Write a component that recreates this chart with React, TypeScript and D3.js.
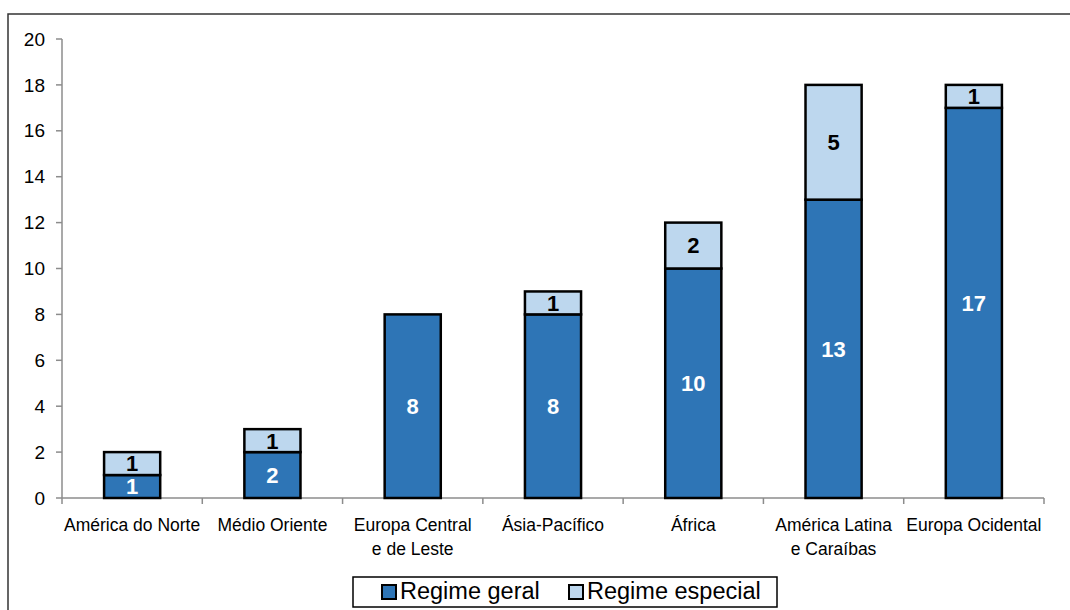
import React from "react";
import * as d3 from "d3";

const categories: string[][] = [
  ["América do Norte"],
  ["Médio Oriente"],
  ["Europa Central", "e de Leste"],
  ["Ásia-Pacífico"],
  ["África"],
  ["América Latina", "e Caraíbas"],
  ["Europa Ocidental"],
];
const regimeGeral = [1, 2, 8, 8, 10, 13, 17];
const regimeEspecial = [1, 1, 0, 1, 2, 5, 1];
const yTicks = [0, 2, 4, 6, 8, 10, 12, 14, 16, 18, 20];
const seriesNames = ["Regime geral", "Regime especial"];

const DARK = "#2E75B6";
const LIGHT = "#BDD7EE";
const FONT = "'Liberation Sans', Arial, sans-serif";

export default function App() {
  const W = 1070, H = 610;
  const left = 62, right = 1044, top = 39, bottom = 498;
  const keys = categories.map((c) => c.join(" "));
  const x = d3.scaleBand<string>().domain(keys).range([left, right]).paddingInner(0.6).paddingOuter(0.3);
  const y = d3.scaleLinear().domain([0, 20]).range([bottom, top]);
  const step = x.step();
  const boundaries = d3.range(keys.length + 1).map((i) => left + i * step);

  const rows = keys.map((k, i) => ({ k, geral: regimeGeral[i], especial: regimeEspecial[i] }));
  const stack = d3.stack<any>().keys(["geral", "especial"])(rows);

  return (
    <svg width={W} height={H} style={{ position: "absolute", left: 0, top: 0 }} fontFamily={FONT}>
      <rect x={0} y={0} width={W} height={H} fill="#fff" />
      <rect x={8} y={14} width={1200} height={800} fill="none" stroke="#333" strokeWidth={1.5} />
      {/* y axis */}
      <line x1={left} x2={left} y1={y(20)} y2={y(0)} stroke="#8c8c8c" strokeWidth={1.5} />
      {yTicks.map((t) => (
        <g key={t}>
          <line x1={left - 6} x2={left} y1={y(t)} y2={y(t)} stroke="#8c8c8c" strokeWidth={1.5} />
          <text x={45} y={y(t)} dy="0.35em" textAnchor="end" fontSize={19} fill="#000">
            {t}
          </text>
        </g>
      ))}
      {/* x axis */}
      <line x1={left} x2={right} y1={bottom} y2={bottom} stroke="#8c8c8c" strokeWidth={1.5} />
      {boundaries.map((b, i) => (
        <line key={i} x1={b} x2={b} y1={bottom} y2={bottom + 6} stroke="#8c8c8c" strokeWidth={1.5} />
      ))}
      {categories.map((lines, i) => (
        <text key={i} x={x(keys[i])! + x.bandwidth() / 2} y={531} textAnchor="middle" fontSize={17.5} fill="#000">
          {lines.map((l, j) => (
            <tspan key={j} x={x(keys[i])! + x.bandwidth() / 2} dy={j === 0 ? 0 : 24}>
              {l}
            </tspan>
          ))}
        </text>
      ))}
      {/* bars */}
      {stack.map((s, si) =>
        s.map((d, i) => {
          const v = d[1] - d[0];
          if (v <= 0) return null;
          const bx = x(keys[i])!;
          const y0 = y(d[0]);
          const y1 = y(d[1]);
          return (
            <rect key={`${si}-${i}`} x={bx} y={y1} width={x.bandwidth()} height={y0 - y1} fill={si === 0 ? DARK : LIGHT} stroke="#000" strokeWidth={2.5} />
          );
        })
      )}
      {stack.map((s, si) =>
        s.map((d, i) => {
          const v = d[1] - d[0];
          if (v <= 0) return null;
          const cx = x(keys[i])! + x.bandwidth() / 2;
          const cy = (y(d[0]) + y(d[1])) / 2;
          return (
            <text key={`t${si}-${i}`} x={cx} y={cy} dy="0.36em" textAnchor="middle" fontSize={22} fontWeight="bold" fill={si === 0 ? "#fff" : "#000"}>
              {v}
            </text>
          );
        })
      )}
      {/* legend */}
      <rect x={353} y={577} width={424} height={30} fill="#fff" stroke="#000" strokeWidth={1.5} />
      {seriesNames.map((n, i) => {
        const lx = i === 0 ? 382 : 569;
        return (
          <g key={n}>
            <rect x={lx} y={585} width={14} height={14} fill={i === 0 ? DARK : LIGHT} stroke="#000" strokeWidth={2} />
            <text x={lx + 18} y={599} fontSize={23.5} fill="#000">
              {n}
            </text>
          </g>
        );
      })}
    </svg>
  );
}
